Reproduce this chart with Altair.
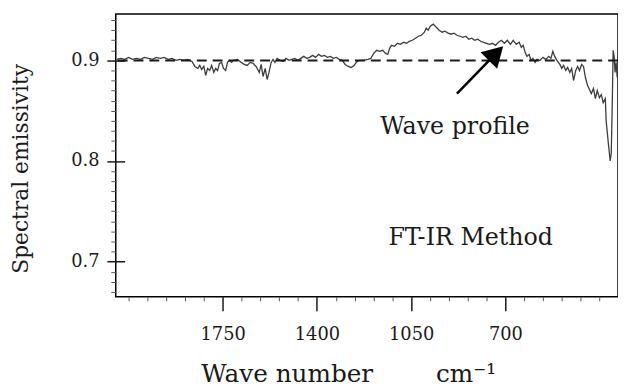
import altair as alt
import pandas as pd

# Spectrum: wave number (cm-1) and spectral emissivity
wave_number = [2143, 2129, 2114, 2099, 2085, 2070, 2055, 2041, 2026, 2011, 1996, 1982, 1967, 1952,
               1938, 1923, 1908, 1894, 1879, 1864, 1853, 1842, 1835, 1828, 1820, 1813, 1806, 1798,
               1791, 1783, 1776, 1769, 1762, 1754, 1747, 1739, 1732, 1725, 1717, 1710, 1695, 1681,
               1670, 1659, 1648, 1637, 1626, 1614, 1607, 1600, 1592, 1585, 1578, 1570, 1563, 1556,
               1548, 1537, 1526, 1515, 1504, 1493, 1482, 1471, 1460, 1449, 1438, 1427, 1416, 1405,
               1394, 1383, 1372, 1361, 1350, 1339, 1328, 1317, 1306, 1295, 1284, 1273, 1262, 1251,
               1240, 1225, 1211, 1200, 1189, 1178, 1167, 1156, 1145, 1137, 1130, 1123, 1112, 1101,
               1090, 1078, 1067, 1057, 1046, 1034, 1023, 1012, 1001, 994, 987, 979, 968, 957, 946,
               935, 924, 913, 902, 891, 880, 869, 858, 847, 836, 825, 814, 803, 792, 781, 770, 759,
               748, 737, 726, 715, 704, 693, 682, 671, 660, 649, 641, 634, 627, 620, 612, 605, 598,
               590, 583, 572, 561, 550, 539, 531, 524, 517, 509, 498, 491, 484, 476, 469, 461, 454,
               447, 439, 432, 425, 417, 410, 403, 395, 388, 381, 373, 366, 359, 351, 344, 337, 329,
               326, 318, 311, 307, 304, 300, 296, 293, 289, 285, 282]
emissivity = [0.901, 0.902, 0.901, 0.903, 0.901, 0.902, 0.901, 0.903, 0.902, 0.901, 0.903, 0.902,
              0.903, 0.901, 0.902, 0.900, 0.901, 0.900, 0.901, 0.899, 0.894, 0.892, 0.895, 0.891,
              0.894, 0.885, 0.892, 0.890, 0.895, 0.888, 0.892, 0.890, 0.897, 0.898, 0.892, 0.890,
              0.898, 0.900, 0.898, 0.900, 0.901, 0.898, 0.896, 0.895, 0.898, 0.897, 0.894, 0.888,
              0.896, 0.884, 0.892, 0.881, 0.888, 0.898, 0.901, 0.898, 0.902, 0.900, 0.899, 0.902,
              0.900, 0.901, 0.902, 0.900, 0.902, 0.904, 0.902, 0.903, 0.905, 0.903, 0.906, 0.904,
              0.905, 0.903, 0.904, 0.902, 0.903, 0.901, 0.900, 0.896, 0.894, 0.893, 0.895, 0.899,
              0.900, 0.900, 0.901, 0.902, 0.907, 0.910, 0.909, 0.910, 0.907, 0.906, 0.912, 0.915,
              0.914, 0.917, 0.916, 0.918, 0.917, 0.919, 0.920, 0.922, 0.924, 0.925, 0.928, 0.932,
              0.930, 0.934, 0.936, 0.933, 0.930, 0.928, 0.929, 0.927, 0.926, 0.927, 0.925, 0.924,
              0.923, 0.924, 0.921, 0.922, 0.920, 0.921, 0.919, 0.918, 0.917, 0.916, 0.917, 0.915,
              0.918, 0.920, 0.917, 0.920, 0.916, 0.920, 0.916, 0.918, 0.913, 0.915, 0.908, 0.904,
              0.906, 0.900, 0.902, 0.898, 0.901, 0.900, 0.903, 0.901, 0.904, 0.902, 0.909, 0.904,
              0.900, 0.896, 0.892, 0.895, 0.890, 0.893, 0.888, 0.892, 0.880, 0.890, 0.894, 0.890,
              0.896, 0.894, 0.883, 0.875, 0.871, 0.867, 0.872, 0.862, 0.870, 0.863, 0.866, 0.858,
              0.862, 0.840, 0.818, 0.800, 0.808, 0.847, 0.910, 0.903, 0.888, 0.898, 0.883, 0.890]

reference_level = [0.9]

x_major_ticks = [1750, 1400, 1050, 700]
x_minor_ticks = [2100, 2030, 1960, 1890, 1820, 1680, 1610, 1540, 1470, 1330, 1260, 1190, 1120,
                 980, 910, 840, 770, 630, 560, 490, 420, 350]
y_major_ticks = [0.7, 0.8, 0.9]
y_minor_ticks = [0.67, 0.68, 0.69, 0.71, 0.72, 0.73, 0.74, 0.75, 0.76, 0.77, 0.78, 0.79, 0.81,
                 0.82, 0.83, 0.84, 0.85, 0.86, 0.87, 0.88, 0.89, 0.91, 0.92, 0.93, 0.94]

label_text = ["Wave profile", "FT-IR Method"]
label_wn = [887, 829]
label_v = [0.834, 0.7236]

arrow_tail_wn = [880]
arrow_tail_v = [0.867]
arrow_head_wn = [735]
arrow_head_v = [0.907]

FONT = "DejaVu Serif"
INK = "#1a1a1a"

spec_df = pd.DataFrame({"wn": wave_number, "v": emissivity})
label_df = pd.DataFrame({"text": label_text, "wn": label_wn, "v": label_v})
arrow_df = pd.DataFrame({"wn": arrow_tail_wn, "v": arrow_tail_v,
                         "wn2": arrow_head_wn, "v2": arrow_head_v})
level_df = pd.DataFrame({"v": reference_level})

xs = alt.Scale(domain=[282, 2147], reverse=True, nice=False, zero=False)
ys = alt.Scale(domain=[0.665, 0.946], nice=False, zero=False)

x_major = alt.Axis(values=x_major_ticks, orient="bottom", grid=False, domain=False, format="d",
                   tickSize=14, tickWidth=1.5, tickColor=INK, labelFont=FONT, labelFontSize=18,
                   labelColor=INK, labelPadding=15,
                   title="Wave number\u00a0\u00a0\u00a0\u00a0\u00a0\u00a0\u00a0\u00a0cm\u207b\u00b9",
                   titleFont=FONT, titleFontSize=25, titleFontWeight="normal", titleColor=INK,
                   titleX=86, titleY=86, titleAlign="left", titleBaseline="alphabetic")
y_major = alt.Axis(values=y_major_ticks, orient="left", grid=False, domain=False, offset=-9,
                   tickSize=18, tickWidth=1.5, tickColor=INK, labelFont=FONT, labelFontSize=18,
                   labelColor=INK, labelPadding=8, format=".1f",
                   title="Spectral emissivity", titleFont=FONT, titleFontSize=22,
                   titleFontWeight="normal", titleColor=INK, titleX=-93, titleY=156)
x_minor = alt.Axis(values=x_minor_ticks, orient="bottom", grid=False, domain=False,
                   tickSize=4, tickWidth=1, tickColor="#555555", labels=False, title=None)
y_minor = alt.Axis(values=y_minor_ticks, orient="left", grid=False, domain=False,
                   tickSize=5, tickWidth=1, tickColor="#555555", labels=False, title=None)

spectrum = alt.Chart(spec_df).mark_line(color="#3c3c3c", strokeWidth=1.3).encode(
    x=alt.X("wn:Q", scale=xs, axis=x_major),
    y=alt.Y("v:Q", scale=ys, axis=y_major),
    order="wn:Q",
)

level = alt.Chart(level_df).mark_rule(color=INK, strokeWidth=2, strokeDash=[10, 6]).encode(
    y=alt.Y("v:Q", scale=ys, axis=None),
)

labels = alt.Chart(label_df).mark_text(font=FONT, fontSize=24, color=INK).encode(
    x=alt.X("wn:Q", scale=xs, axis=x_minor),
    y=alt.Y("v:Q", scale=ys, axis=y_minor),
    text="text:N",
)

shaft = alt.Chart(arrow_df).mark_rule(color="black", strokeWidth=2.5).encode(
    x=alt.X("wn:Q", scale=xs, axis=None),
    y=alt.Y("v:Q", scale=ys, axis=None),
    x2="wn2:Q",
    y2="v2:Q",
)

head = alt.Chart(arrow_df).mark_point(shape="triangle-up", filled=True, size=560, angle=45,
                                      color="black", opacity=1).encode(
    x=alt.X("wn2:Q", scale=xs, axis=None),
    y=alt.Y("v2:Q", scale=ys, axis=None),
)

chart = alt.layer(spectrum, level, labels, shaft, head).resolve_axis(
    x="independent", y="independent"
).properties(
    width=508, height=286,
    autosize=alt.AutoSizeParams(type="none"),
    padding={"left": 109, "top": 4, "right": 0, "bottom": 89},
    background="white",
).configure_view(stroke="black", strokeWidth=1.5)

chart.save("out.html", embed_options={"renderer": "svg", "actions": False})
